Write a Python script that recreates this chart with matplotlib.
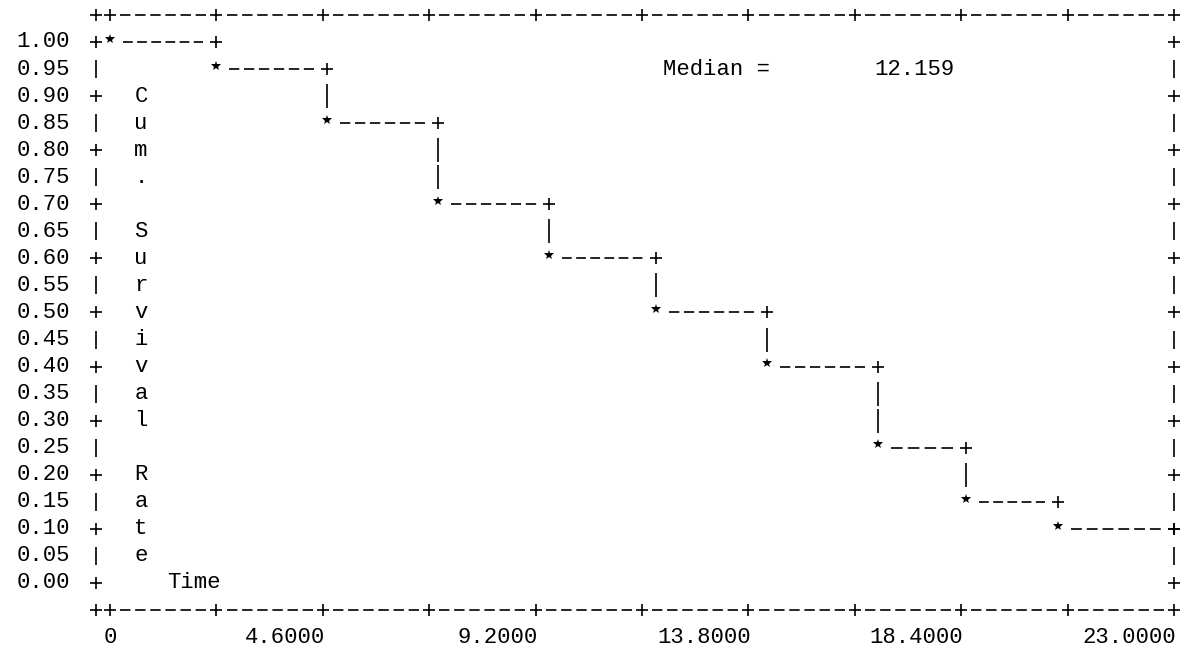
import numpy as np
import matplotlib
matplotlib.use("Agg")
import matplotlib.pyplot as plt

# Kaplan-Meier style step curve
STEP_TIMES = [0.0, 2.3, 4.7, 7.1, 9.5, 11.8, 14.2, 16.6, 18.5, 20.5]
SURVIVAL = [1.00, 0.95, 0.85, 0.70, 0.60, 0.50, 0.40, 0.25, 0.15, 0.10]
END_TIME = 23.0
MEDIAN = 12.159

X_MINOR_TICKS = [0, 2.3, 4.6, 6.9, 9.2, 11.5, 13.8, 16.1, 18.4, 20.7, 23.0]
X_LABEL_TICKS = [0, 4.6, 9.2, 13.8, 18.4, 23.0]
X_LABELS = ["0", "4.6000", "9.2000", "13.8000", "18.4000", "23.0000"]
Y_ROWS = [1.00, 0.95, 0.90, 0.85, 0.80, 0.75, 0.70, 0.65, 0.60, 0.55,
          0.50, 0.45, 0.40, 0.35, 0.30, 0.25, 0.20, 0.15, 0.10, 0.05, 0.00]
Y_TITLE = "Cum. Survival Rate"
X_TITLE = "Time"

ROW = 0.05
FONT = "Liberation Mono"
FS = 16
LW = 1.2
LEFT = -0.30          # left frame column
TOP = 1.05
BOTTOM = -0.05
XLIM = (-2.378, 23.26)
FIG_W = 11.86


def even_dashes(length):
    """Dash pattern that fits a whole number of '-' into a segment."""
    pts = length / (XLIM[1] - XLIM[0]) * FIG_W * 72
    period = 11.0
    n = max(1, int(round((pts + 3.4) / period)))
    unit = pts / (n * 2.2 + (n - 1))
    return (0, (2.2 * unit / LW, unit / LW))


def dashed(ax, x0, x1, y, gap):
    a, b = x0 + gap, x1 - gap
    ax.plot([a, b], [y, y], ls=even_dashes(b - a), lw=LW, color="k",
            dash_capstyle="butt")


def draw_frame(ax):
    """Dashed ASCII-like box with + and | marks."""
    rows = np.array(Y_ROWS)
    major = np.isclose(np.round(rows * 20) % 2, 0)
    for x in (LEFT, END_TIME):
        ax.plot([x] * major.sum(), rows[major], "+", color="k", ms=9, mew=LW)
        ax.plot([x] * (~major).sum(), rows[~major], "|", color="k", ms=13, mew=LW)

    for y in (TOP, BOTTOM):
        for x0, x1 in zip(X_MINOR_TICKS[:-1], X_MINOR_TICKS[1:]):
            dashed(ax, x0, x1, y, 0.22)
        ax.plot([LEFT] + X_MINOR_TICKS, [y] * (len(X_MINOR_TICKS) + 1), "+",
                color="k", ms=9, mew=LW)


def draw_labels(ax):
    for v in Y_ROWS:
        ax.text(-0.865, v, f"{v:.2f}", ha="right", va="center",
                family=FONT, fontsize=FS)

    for x, lab in zip(X_LABEL_TICKS, X_LABELS):
        if x == 0:
            ax.text(x, -0.10, lab, ha="center", va="center", family=FONT, fontsize=FS)
        else:
            ax.text(x + 0.05, -0.10, lab, ha="right", va="center",
                    family=FONT, fontsize=FS)

    # vertical y title, one letter per row starting at 0.90
    for i, ch in enumerate(Y_TITLE):
        if ch != " ":
            ax.text(0.67, 0.90 - i * ROW, ch, ha="center", va="center",
                    family=FONT, fontsize=FS)
    ax.text(1.23, 0.0, X_TITLE, ha="left", va="center", family=FONT, fontsize=FS)

    ax.text(11.95, 0.95, "Median =", ha="left", va="center", family=FONT, fontsize=FS)
    ax.text(18.25, 0.95, f"{MEDIAN:.3f}", ha="right", va="center",
            family=FONT, fontsize=FS)


def draw_steps(ax):
    ends = STEP_TIMES[1:] + [END_TIME]
    for t0, t1, s in zip(STEP_TIMES, ends, SURVIVAL):
        dashed(ax, t0, t1, s, 0.28)

    # vertical drops drawn as | marks on the rows in between
    for t1, hi, lo in zip(ends[:-1], SURVIVAL[:-1], SURVIVAL[1:]):
        rows = np.round(np.arange(lo + ROW, hi - ROW / 2, ROW), 2)
        if len(rows):
            ax.plot([t1] * len(rows), rows, "|", color="k", ms=17, mew=LW)

    ax.plot(STEP_TIMES, np.array(SURVIVAL) + 0.006, "*", color="k", ms=7, mew=0)
    ax.plot(ends, SURVIVAL, "+", color="k", ms=9, mew=LW)


def main():
    fig = plt.figure(figsize=(FIG_W, 6.51), dpi=100)
    ax = fig.add_axes([0, 0, 1, 1])
    ax.set_xlim(*XLIM)
    ax.set_ylim(-0.1257, 1.0776)
    ax.axis("off")

    draw_frame(ax)
    draw_steps(ax)
    draw_labels(ax)

    fig.savefig("out.png", dpi=100, facecolor="white")


if __name__ == "__main__":
    main()
